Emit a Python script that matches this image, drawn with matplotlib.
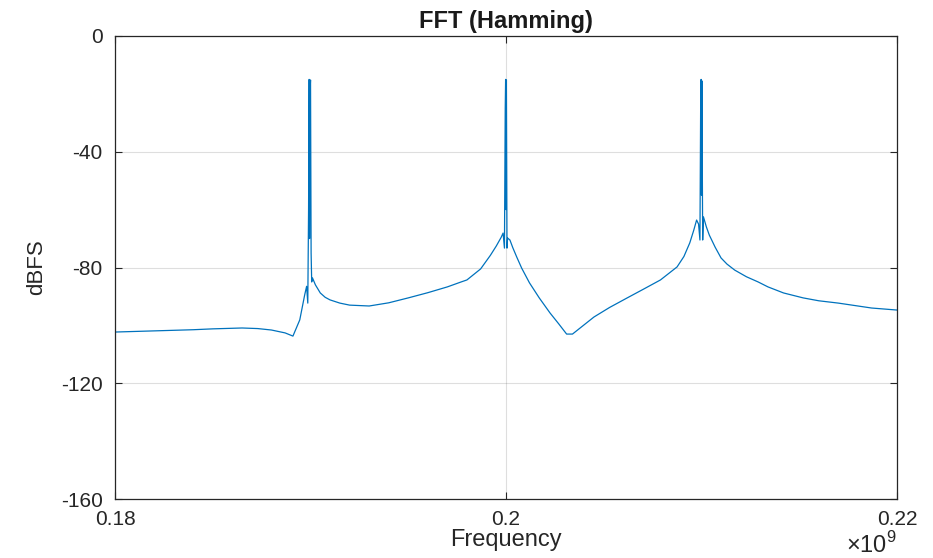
import numpy as np
import matplotlib
matplotlib.use("Agg")
import matplotlib.pyplot as plt
from matplotlib.ticker import FuncFormatter

# spectrum, frequency in MHz, level in dBFS
freq_mhz = [180.0, 182.5, 184.0, 185.0, 186.5, 187.3, 188.0, 188.7, 189.1, 189.45, 189.7, 189.8,
            189.86, 189.9, 189.93, 189.95, 189.97, 190.0, 190.03, 190.06,
            190.1, 190.25, 190.5, 190.75, 191.0, 191.5, 192.0, 193.0, 194.0, 195.0, 196.0,
            197.0, 197.7, 198.0, 198.7, 199.2, 199.5, 199.75,
            199.85, 199.92, 199.96, 199.98, 200.0, 200.02, 200.05,
            200.08, 200.2, 200.35, 200.55, 200.8, 201.2, 201.7, 202.25, 202.7, 203.1, 203.4,
            204.5, 205.3, 206.2, 207.0,
            207.9, 208.75, 209.1, 209.4, 209.6, 209.75, 209.85, 209.92, 209.96, 209.98, 210.0,
            210.02, 210.06, 210.1, 210.25, 210.4, 210.7, 211.0, 211.3, 211.7, 212.3, 212.9,
            213.4, 214.2, 215.2, 216.0, 217.0, 218.7, 220.0]
level_db = [-102.3, -101.8, -101.5, -101.2, -100.9, -101.1, -101.6, -102.6, -103.7, -98.1, -89.5, -86.5,
            -92.3, -60.0, -15.0, -70.0, -20.0, -15.2, -75.0, -85.0,
            -83.6, -86.0, -88.8, -90.3, -91.2, -92.3, -93.0, -93.3, -92.2, -90.5, -88.7,
            -86.7, -85.0, -84.3, -80.5, -75.8, -72.6, -69.6,
            -68.1, -73.3, -25.0, -15.0, -60.0, -15.2, -73.3,
            -69.8, -70.5, -73.2, -76.4, -80.2, -85.3, -90.5, -95.7, -99.5, -103.0, -103.0,
            -97.1, -93.8, -90.5, -87.6,
            -84.3, -79.8, -76.2, -71.5, -67.2, -63.6, -65.0, -70.5, -20.0, -15.0, -55.0,
            -15.5, -70.5, -62.5, -66.0, -68.8, -73.0, -76.7, -78.8, -80.9, -83.2, -85.0,
            -86.7, -88.8, -90.5, -91.5, -92.3, -94.0, -94.7]

x_ticks = [0.18e9, 0.20e9, 0.22e9]
y_ticks = [-160, -120, -80, -40, 0]

plt.rcParams['font.family'] = ['Liberation Sans', 'DejaVu Sans']
plt.rcParams['axes.unicode_minus'] = False
plt.rcParams['mathtext.fontset'] = 'custom'
plt.rcParams['mathtext.rm'] = 'Liberation Sans'

fig = plt.figure(figsize=(9.33, 5.58), dpi=100)
ax = fig.add_axes([0.1233, 0.1057, 0.8381, 0.8298])

f_hz = np.array(freq_mhz) * 1e6
ax.plot(f_hz, level_db, color='#0072BD', lw=0.9)

ax.set_xlim(0.18e9, 0.22e9)
ax.set_ylim(-160, 0)
ax.set_xticks(x_ticks)
ax.set_yticks(y_ticks)
ax.xaxis.set_major_formatter(FuncFormatter(lambda v, p: '%g' % (v / 1e9)))
ax.grid(True, color='#262626', alpha=0.15, lw=0.8)
ax.tick_params(direction='in', top=True, right=True, labelsize=15, colors='#262626',
               length=5, width=0.8)
ax.tick_params(axis='x', pad=8)
ax.tick_params(axis='y', pad=9)
for s in ax.spines.values():
    s.set_color('#262626')
    s.set_linewidth(0.9)

ax.set_title('FFT (Hamming)', fontsize=17, fontweight='bold', color='#1a1a1a', pad=6)
ax.set_xlabel('Frequency', fontsize=17, color='#262626', labelpad=0)
ax.set_ylabel('dBFS', fontsize=16, color='#262626', labelpad=10)
ax.text(1.0, -0.072, r'$\times10^{9}$', transform=ax.transAxes, ha='right', va='top',
        fontsize=17, color='#262626')

fig.savefig('out.png', dpi=100)
